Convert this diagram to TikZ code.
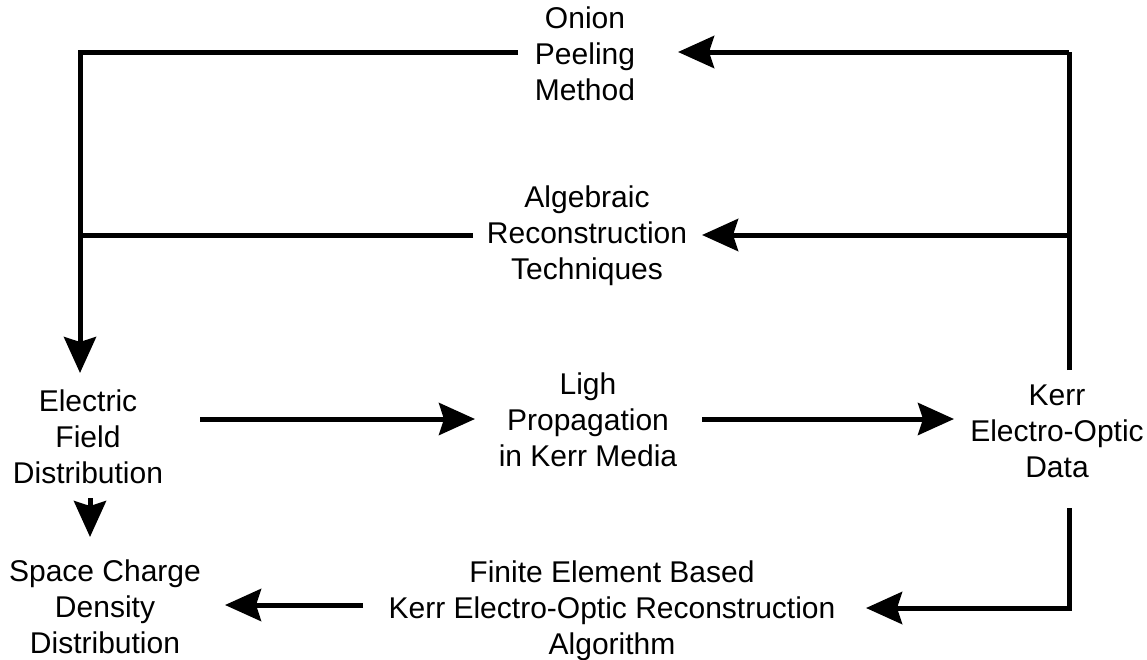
\documentclass[tikz,border=0pt]{standalone}
\usepackage{fontspec}
\setmainfont{Liberation Sans}
\usetikzlibrary{arrows.meta}
\begin{document}
\begin{tikzpicture}[x=1pt,y=-1pt,
  lbl/.style={align=center,inner sep=0pt,font=\fontsize{30}{36}\selectfont},
  conn/.style={line width=5pt,line join=miter},
  arr/.style={conn,-{Stealth[length=36pt,width=32pt,inset=5pt]}}]
\useasboundingbox[fill=white] (0,0) rectangle (1147,659);
% texts
\node[lbl] (onion) at (585,54) {Onion\\Peeling\\Method};
\node[lbl] (alg) at (587,236) {Algebraic\\Reconstruction\\Techniques};
\node[lbl] (efd) at (88,437) {Electric\\Field\\Distribution};
\node[lbl] (lpk) at (588,420) {Ligh\\Propagation\\in Kerr Media};
\node[lbl] (kerr) at (1057,431) {Kerr\\Electro-Optic\\Data};
\node[lbl] (scd) at (105,607) {Space Charge\\Density\\Distribution};
\node[lbl] (fe) at (612,611) {Finite Element Based\\Kerr Electro-Optic Reconstruction\\Algorithm};
% connector points
\coordinate (kerrT) at (1069,370);
\coordinate (rc1) at (1069,52);
\coordinate (rc2) at (1069,235);
\coordinate (onionR) at (678,52);
\coordinate (algR) at (702,235);
\coordinate (onionL) at (518,52);
\coordinate (lc1) at (80,52);
\coordinate (algL) at (473,235);
\coordinate (lc2) at (80,235);
\coordinate (efdT) at (80,373);
\coordinate (efdR) at (200,419);
\coordinate (lpkL) at (475,419);
\coordinate (lpkR) at (702,419);
\coordinate (kerrL) at (954,419);
\coordinate (kerrB) at (1069,508);
\coordinate (rc3) at (1069,608);
\coordinate (feR) at (866,608);
\coordinate (feL) at (363,605);
\coordinate (scdR) at (225,605);
\coordinate (efdB) at (90,498);
\coordinate (scdT) at (90,537);
% connectors
\draw[conn] (kerrT) -- (rc1);
\draw[arr] (rc1) -- (onionR);
\draw[arr] (rc2) -- (algR);
\draw[arr] (onionL) -- (lc1) -- (efdT);
\draw[conn] (algL) -- (lc2);
\draw[arr] (efdR) -- (lpkL);
\draw[arr] (lpkR) -- (kerrL);
\draw[arr] (kerrB) -- (rc3) -- (feR);
\draw[arr] (feL) -- (scdR);
\draw[arr] (efdB) -- (scdT);
\end{tikzpicture}
\end{document}
